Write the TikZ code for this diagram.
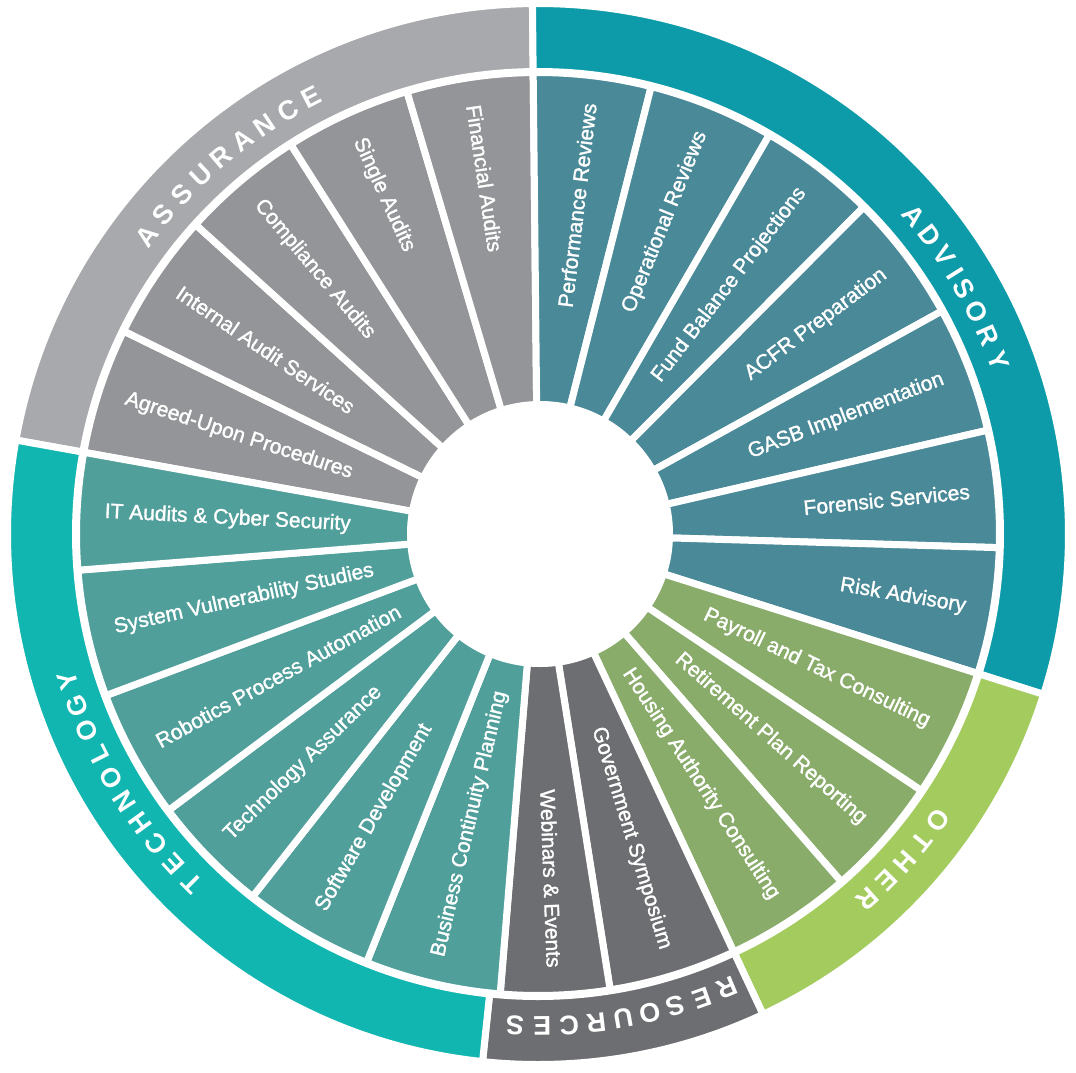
\documentclass[tikz,border=0pt]{standalone}
\usepackage{fontspec}
\setmainfont{Liberation Sans}
\newfontfamily\segfont[FakeBold=1.5]{Liberation Sans}
\usepackage{tikz}

\definecolor{assurseg}{HTML}{939598}
\definecolor{assurring}{HTML}{A7A9AC}
\definecolor{advseg}{HTML}{4A8997}
\definecolor{advring}{HTML}{0E9BA9}
\definecolor{otherseg}{HTML}{8AAC6B}
\definecolor{otherring}{HTML}{A3CB5E}
\definecolor{resseg}{HTML}{6D6E71}
\definecolor{resring}{HTML}{6D6E71}
\definecolor{techseg}{HTML}{509F9B}
\definecolor{techring}{HTML}{12B6B1}

\begin{document}
\begin{tikzpicture}[
    x=1pt, y=1pt,
    seg/.style={draw=white, line width=7pt, line join=round},
    band/.style={draw=white, line width=7pt, line join=round},
    lbl/.style={text=white, inner sep=0pt, font=\segfont\fontsize{21}{21}\selectfont},
    ringletter/.style={text=white, inner sep=0pt, font=\fontsize{27}{27}\selectfont\bfseries}
]
\useasboundingbox (-538,-538) rectangle (538,534);

\foreach \a/\b/\col/\txt [count=\n] in {
    169.8/153.9/assurseg/Agreed-Upon Procedures,
    153.9/137.9/assurseg/Internal Audit Services,
    137.9/122.4/assurseg/Compliance Audits,
    122.4/106.5/assurseg/Single Audits,
    106.5/90.6/assurseg/Financial Audits,
    90.6/75.8/advseg/Performance Reviews,
    75.8/59.9/advseg/Operational Reviews,
    59.9/45.1/advseg/Fund Balance Projections,
    45.1/28.9/advseg/ACFR Preparation,
    28.9/13.0/advseg/GASB Implementation,
    13.0/-1.7/advseg/Forensic Services,
    -1.7/-17.6/advseg/Risk Advisory,
    -17.6/-33.8/otherseg/Payroll and Tax Consulting,
    -33.8/-48.9/otherseg/Retirement Plan Reporting,
    -48.9/-64.9/otherseg/Housing Authority Consulting,
    -64.9/-81.0/resseg/Government Symposium,
    -81.0/-94.7/resseg/Webinars \& Events,
    -94.7/-111.8/techseg/Business Continuity Planning,
    -111.8/-128.2/techseg/Software Development,
    -128.2/-143.2/techseg/Technology Assurance,
    -143.2/-159.5/techseg/Robotics Process Automation,
    -159.5/-175.5/techseg/System Vulnerability Studies,
    -175.5/-190.2/techseg/IT Audits \& Cyber Security}
{
  \filldraw[seg, fill=\col] (0,0) -- (\a:461.5) arc[start angle=\a, end angle=\b, radius=461.5] -- cycle;
  \pgfmathsetmacro\m{(\a+\b)/2}
  \pgfmathtruncatemacro\lft{cos(\m)<0}
  \ifnum\lft=1
    \node[lbl, anchor=west, rotate=\m+180] (seg-\n) at (\m:434) {\txt};
  \else
    \node[lbl, anchor=east, rotate=\m] (seg-\n) at (\m:434) {\txt};
  \fi
}
\fill[white] (2,0) circle[radius=133];

\foreach \a/\b/\col in {169.8/90.6/assurring, 90.6/-17.6/advring, -17.6/-64.9/otherring,
                        -64.9/-96/resring, -96/-190.2/techring}
  \filldraw[band, fill=\col] (\a:462.5) arc[start angle=\a, end angle=\b, radius=462.5]
    -- (\b:530.5) arc[start angle=\b, end angle=\a, radius=530.5] -- cycle;

\foreach \ch [count=\k from 0] in {A,S,S,U,R,A,N,C,E}
  \node[ringletter, rotate={142.7-\k*3.16-90}] (assurance-\k) at ({142.7-\k*3.16}:492) {\ch};
\foreach \ch/\t [count=\k] in {A/40.2, D/37.3, V/34.4, I/32.0, S/29.9, O/26.9, R/23.8, Y/20.6}
  \node[ringletter, rotate=\t-90] (advisory-\k) at (\t:492) {\ch};
\foreach \ch [count=\k from 0] in {O,T,H,E,R}
  \node[ringletter, rotate={-35.6-\k*3.08-90}] (other-\k) at ({-35.6-\k*3.08}:492) {\ch};
\foreach \ch [count=\k from 0] in {R,E,S,O,U,R,C,E,S}
  \node[ringletter, rotate={-67.4-\k*3.16-90}] (resources-\k) at ({-67.4-\k*3.16}:492) {\ch};
\foreach \ch [count=\k from 0] in {T,E,C,H,N,O,L,O,G,Y}
  \node[ringletter, rotate={-134.7-\k*3.11-90}] (technology-\k) at ({-134.7-\k*3.11}:492) {\ch};
\end{tikzpicture}
\end{document}
